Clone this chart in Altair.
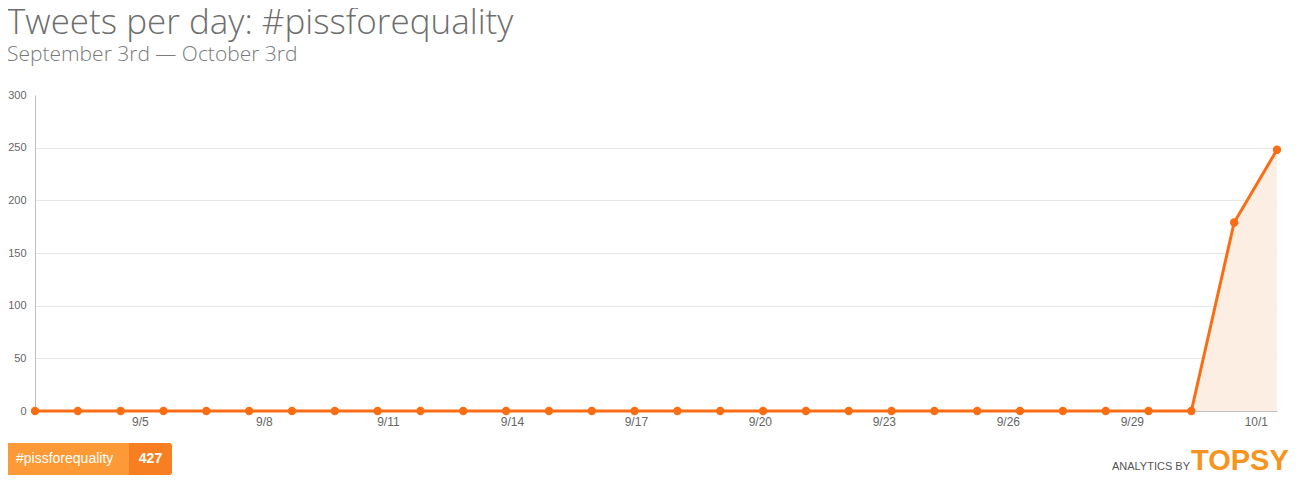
import altair as alt
import pandas as pd

# ---- data ----
dates = ["9/3", "9/4", "9/5", "9/6", "9/7", "9/8", "9/9", "9/10", "9/11", "9/12",
         "9/13", "9/14", "9/15", "9/16", "9/17", "9/18", "9/19", "9/20", "9/21", "9/22",
         "9/23", "9/24", "9/25", "9/26", "9/27", "9/28", "9/29", "9/30", "10/1", "10/2"]
tweets = [0, 0, 0, 0, 0, 0, 0, 0, 0, 0,
          0, 0, 0, 0, 0, 0, 0, 0, 0, 0,
          0, 0, 0, 0, 0, 0, 0, 0, 179, 248]
tick_labels = ["9/5", "9/8", "9/11", "9/14", "9/17", "9/20", "9/23", "9/26", "9/29", "10/1"]
y_ticks = [0, 50, 100, 150, 200, 250, 300]
title_text = "Tweets per day: #pissforequality"
subtitle_text = "September 3rd \u2014 October 3rd"
badge_label = "#pissforequality"
badge_total = "427"

df = pd.DataFrame({"idx": list(range(len(dates))), "date": dates, "tweets": tweets})

# label positions on the day-index scale (the source chart's labels drift from the points)
tick_start, tick_step = 2.45, 2.895
tick_vals = [round(tick_start + tick_step * k, 3) for k in range(len(tick_labels))]
label_expr = "[" + ",".join("'%s'" % t for t in tick_labels) + "][round((datum.value-%s)/%s)]" % (tick_start, tick_step)

W, H = 1242, 316
ORANGE = "#F96D15"
FONT = "Liberation Sans"

x = alt.X("idx:Q", scale=alt.Scale(domain=[0, len(dates) - 1], nice=False, zero=False),
          axis=alt.Axis(values=tick_vals, labelExpr=label_expr, title=None, grid=False,
                        ticks=False, domainColor="#C0C0C0", labelColor="#666666",
                        labelFont=FONT, labelFontSize=12, labelPadding=5, labelFlush=False))
y = alt.Y("tweets:Q", scale=alt.Scale(domain=[0, 300], nice=False),
          axis=alt.Axis(values=y_ticks, title=None, grid=True, gridColor="#E6E6E6",
                        gridOpacity={"condition": {"test": "datum.value >= 300", "value": 0}, "value": 1},
                        ticks=False, domainColor="#C0C0C0", labelColor="#666666",
                        labelFont=FONT, labelFontSize=11, labelPadding=9))

base = alt.Chart(df)
area = base.mark_area(color="#FDEEE4", opacity=1).encode(x=x, y=y)
line = base.mark_line(color=ORANGE, strokeWidth=3).encode(x=x, y=y)
pts = base.mark_circle(color=ORANGE, size=70, opacity=1).encode(x=x, y=y, tooltip=["date", "tweets"])

one = alt.Data(values=[{"a": 1}])
title = alt.Chart(one).mark_text(text=title_text, font="Open Sans", fontWeight=300, fontSize=35,
                                 color="#6E6E6E", align="left", baseline="alphabetic").encode(
    x=alt.value(-28), y=alt.value(-61))
subtitle = alt.Chart(one).mark_text(text=subtitle_text, font="Open Sans", fontWeight=300, fontSize=21,
                                    color="#7A7A7A", align="left", baseline="alphabetic").encode(
    x=alt.value(-28), y=alt.value(-34))

badge_left = alt.Chart(one).mark_rect(color="#FD9A36", cornerRadius=3).encode(
    x=alt.value(-29), x2=alt.value(137), y=alt.value(348), y2=alt.value(380))
badge_right = alt.Chart(one).mark_rect(color="#F77F22", cornerRadiusTopRight=3, cornerRadiusBottomRight=3).encode(
    x=alt.value(94), x2=alt.value(137), y=alt.value(348), y2=alt.value(380))
badge_t1 = alt.Chart(one).mark_text(text=badge_label, font=FONT, fontSize=14, color="white",
                                    align="left", baseline="middle").encode(x=alt.value(-19), y=alt.value(364))
badge_t2 = alt.Chart(one).mark_text(text=badge_total, font=FONT, fontSize=14, fontWeight="bold", color="white",
                                    align="center", baseline="middle").encode(x=alt.value(115.5), y=alt.value(364))

logo1 = alt.Chart(one).mark_text(text="ANALYTICS BY", font=FONT, fontSize=11, color="#555555",
                                 align="right", baseline="alphabetic").encode(x=alt.value(1155), y=alt.value(375))
logo2 = alt.Chart(one).mark_text(text="TOPSY", font=FONT, fontSize=29, fontWeight="bold", color="#F7941D",
                                 align="left", baseline="alphabetic").encode(x=alt.value(1156), y=alt.value(375))

chart = alt.layer(area, line, pts, title, subtitle, badge_left, badge_right, badge_t1, badge_t2, logo1, logo2).properties(
    width=W, height=H,
    autosize=alt.AutoSizeParams(type="none"),
    padding={"left": 27, "top": 87, "right": 23, "bottom": 75},
).configure(background="white").configure_view(stroke=None)

chart.save("out.html", embed_options={"renderer": "svg", "actions": False})
